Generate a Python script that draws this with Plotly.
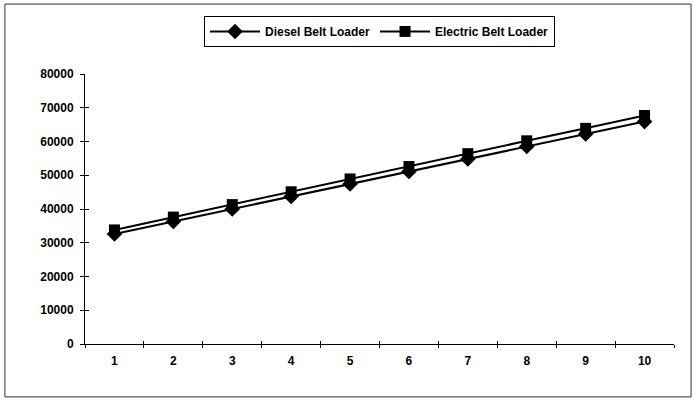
import plotly.graph_objects as go

# Year index and cumulative cost of each loader type
years = ["1", "2", "3", "4", "5", "6", "7", "8", "9", "10"]
diesel = [32600, 36300, 40000, 43700, 47400, 51100, 54800, 58500, 62200, 65900]
electric = [33800, 37600, 41300, 45100, 48900, 52600, 56400, 60200, 63900, 67700]

y_ticks = [0, 10000, 20000, 30000, 40000, 50000, 60000, 70000, 80000]
y_labels = ["0", "10000", "20000", "30000", "40000", "50000", "60000", "70000", "80000"]

font = dict(family="Arial, Liberation Sans, sans-serif", size=12, color="black", weight="bold")

fig = go.Figure()
fig.add_trace(go.Scatter(
    x=years, y=diesel, name="Diesel Belt Loader", mode="lines+markers",
    line=dict(color="black", width=2),
    marker=dict(symbol="diamond", size=12, color="black"),
))
fig.add_trace(go.Scatter(
    x=years, y=electric, name="Electric Belt Loader", mode="lines+markers",
    line=dict(color="black", width=2),
    marker=dict(symbol="square", size=11, color="black"),
))
# Empty helper trace so the overlay axes (inner half of the cross ticks) render
fig.add_trace(go.Scatter(x=[None], y=[None], xaxis="x2", yaxis="y2",
                         showlegend=False, hoverinfo="skip"))

n = len(years)
fig.update_layout(
    width=696, height=404,
    margin=dict(l=85, r=22, t=74, b=60),
    paper_bgcolor="white", plot_bgcolor="white",
    font=font,
    showlegend=True,
    legend=dict(
        orientation="h", x=0.5, y=1.215, xanchor="center", yanchor="top",
        bordercolor="black", borderwidth=1, bgcolor="white",
        font=font, itemwidth=50, tracegroupgap=0,
    ),
    xaxis=dict(
        type="category", categoryarray=years, range=[-0.5, n - 0.5],
        tickson="boundaries", ticks="outside", ticklen=3, tickcolor="black",
        showline=True, linecolor="black", linewidth=1,
        showgrid=False, zeroline=False, tickfont=font, ticklabelstandoff=6,
    ),
    yaxis=dict(
        range=[0, 80000], tickvals=y_ticks, ticktext=y_labels,
        ticks="outside", ticklen=4,
        tickcolor="black", showline=True, linecolor="black", linewidth=1,
        showgrid=False, zeroline=False, tickfont=font, ticklabelstandoff=4,
    ),
    xaxis2=dict(
        overlaying="x", anchor="y2", range=[-0.5, n - 0.5],
        tickvals=[i + 0.5 for i in range(n)], ticks="inside", ticklen=3,
        tickcolor="black", showticklabels=False, showline=False,
        showgrid=False, zeroline=False,
    ),
    yaxis2=dict(
        overlaying="y", anchor="x2", range=[0, 80000], tickvals=y_ticks,
        ticks="inside", ticklen=4, tickcolor="black", showticklabels=False,
        showline=False, showgrid=False, zeroline=False,
    ),
    shapes=[dict(
        type="rect", xref="paper", yref="paper",
        x0=-0.136, x1=1.029, y0=-0.196, y1=1.259,
        line=dict(color="#333333", width=1), fillcolor="rgba(0,0,0,0)",
    )],
)

fig.write_html("out.html")
